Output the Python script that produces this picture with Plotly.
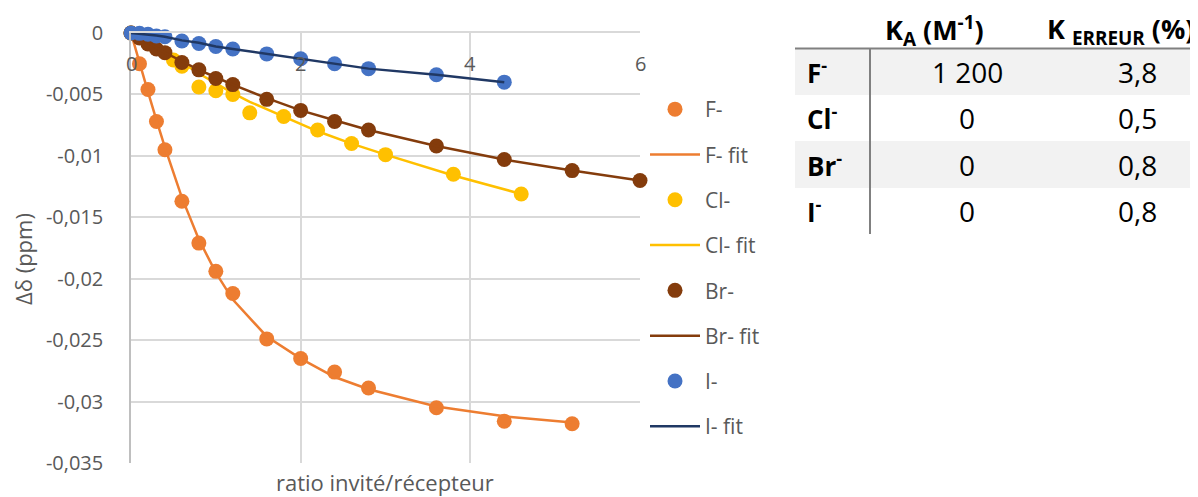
import plotly.graph_objects as go

# ---------------- data ----------------
x_f = [0, 0.1, 0.2, 0.3, 0.4, 0.6, 0.8, 1.0, 1.2, 1.6, 2.0, 2.4, 2.8, 3.6, 4.4, 5.2]
f_pts = [0, -0.0025, -0.0046, -0.0072, -0.0095, -0.0137, -0.0171, -0.0194, -0.0212,
         -0.0249, -0.0265, -0.0276, -0.0289, -0.0305, -0.0316, -0.0318]
f_fit = [0, -0.0025, -0.0048, -0.0071, -0.0093, -0.0134, -0.0168, -0.0195, -0.0217,
         -0.0247, -0.0265, -0.0280, -0.0290, -0.0304, -0.0312, -0.0317]

x_cl = [0, 0.5, 0.6, 0.8, 1.0, 1.2, 1.4, 1.8, 2.2, 2.6, 3.0, 3.8, 4.6]
cl_pts = [0, -0.0022, -0.0027, -0.0044, -0.0047, -0.0050, -0.0065, -0.0068, -0.0079,
          -0.0090, -0.0099, -0.0115, -0.0131]
cl_fit = [0, -0.0020, -0.0024, -0.0033, -0.0041, -0.0049, -0.0056, -0.0068, -0.0080,
          -0.0090, -0.0099, -0.0116, -0.0131]

x_br = [0, 0.1, 0.2, 0.3, 0.4, 0.6, 0.8, 1.0, 1.2, 1.6, 2.0, 2.4, 2.8, 3.6, 4.4, 5.2, 6.0]
br_pts = [0, -0.0004, -0.0009, -0.0013, -0.0016, -0.0024, -0.0030, -0.0037, -0.0042,
          -0.0054, -0.0063, -0.0072, -0.0079, -0.0092, -0.0103, -0.0112, -0.0120]
br_fit = [0, -0.0004, -0.0008, -0.0012, -0.0016, -0.0023, -0.0030, -0.0036, -0.0042,
          -0.0053, -0.0063, -0.0071, -0.0079, -0.0092, -0.0103, -0.0112, -0.0120]

x_i = [0, 0.1, 0.2, 0.3, 0.4, 0.6, 0.8, 1.0, 1.2, 1.6, 2.0, 2.4, 2.8, 3.6, 4.4]
i_pts = [0, -0.00003, -0.0001, -0.00025, -0.0003, -0.00065, -0.00085, -0.0011, -0.0013,
         -0.0017, -0.0021, -0.0025, -0.0029, -0.0034, -0.0040]
i_fit = [0, -0.00005, -0.0001, -0.0002, -0.0003, -0.0006, -0.0008, -0.0011, -0.0013,
         -0.0017, -0.0021, -0.0025, -0.0029, -0.0034, -0.0040]

x_tickvals = [0, 2, 4, 6]
x_ticktext = ["0", "2", "4", "6"]
y_tickvals = [0, -0.005, -0.01, -0.015, -0.02, -0.025, -0.03, -0.035]
y_ticktext = ["0", "-0,005", "-0,01", "-0,015", "-0,02", "-0,025", "-0,03", "-0,035"]

x_title = "ratio invité/récepteur"
y_title = "Δδ (ppm)"

# table
tbl_header = ["K<sub>A</sub> (M<sup>-1</sup>)", "K <sub>ERREUR</sub> (%)"]
tbl_rows = ["F<sup>-</sup>", "Cl<sup>-</sup>", "Br<sup>-</sup>", "I<sup>-</sup>"]
tbl_ka = ["1 200", "0", "0", "0"]
tbl_err = ["3,8", "0,5", "0,8", "0,8"]

# ---------------- style ----------------
C_F = "#ED7D31"
C_CL = "#FFC000"
C_BR = "#843C0C"
C_I = "#4472C4"
C_IFIT = "#203864"
GRAY = "#595959"
FONT = "Open Sans"
FS = 20

OFF = 8  # page body margin in the browser
W, H = 1198 - OFF, 497 - OFF
L, T = 131 - OFF, 33 - OFF
PW, PH = 509, 430
R, B = W - L - PW, H - T - PH


def px_x(p):
    """page pixel -> paper fraction"""
    return (p - OFF - L) / PW


def px_y(p):
    return (T + PH - (p - OFF)) / PH


fig = go.Figure()
series = [
    ("F-", x_f, f_pts, f_fit, C_F, C_F),
    ("Cl-", x_cl, cl_pts, cl_fit, C_CL, C_CL),
    ("Br-", x_br, br_pts, br_fit, C_BR, C_BR),
    ("I-", x_i, i_pts, i_fit, C_I, C_IFIT),
]
for name, xs, pts, fit, cm, cl in series:
    fig.add_trace(go.Scatter(x=xs, y=pts, mode="markers", name=name,
                             marker=dict(color=cm, size=15), cliponaxis=False,
                             legendgroup=name))
    fig.add_trace(go.Scatter(x=xs, y=fit, mode="lines", name=name + " fit",
                             line=dict(color=cl, width=2.5), cliponaxis=False,
                             legendgroup=name + " fit"))

fig.update_layout(
    width=W, height=H, autosize=False,
    margin=dict(l=L, r=R, t=T, b=B, pad=0, autoexpand=False),
    paper_bgcolor="white", plot_bgcolor="white",
    font=dict(family=FONT, size=FS, color=GRAY),
    showlegend=True,
    legend=dict(x=px_x(645), y=px_y(89), xanchor="left", yanchor="top",
                font=dict(size=21, color=GRAY), tracegroupgap=15,
                bgcolor="rgba(0,0,0,0)", itemwidth=50),
    xaxis=dict(range=[0, 6], side="top", showticklabels=False,
               tickvals=x_tickvals, ticks="",
               showgrid=True, gridcolor="#D9D9D9", gridwidth=1.5,
               showline=True, linecolor="#D9D9D9", linewidth=1.5,
               zeroline=False, automargin=False),
    yaxis=dict(range=[-0.035, 0], tickvals=y_tickvals, ticktext=y_ticktext, ticks="",
               showgrid=True, gridcolor="#D9D9D9", gridwidth=1.5,
               showline=True, linecolor="#BFBFBF", linewidth=1.5,
               zeroline=False, ticklabelstandoff=22, automargin=False,
               tickfont=dict(size=FS, color=GRAY)),
)

# x tick labels just under the y=0 line, placed on the x scale
for v, t in zip(x_tickvals, x_ticktext):
    fig.add_annotation(text=t, xref="x", yref="paper", x=v, y=px_y(64),
                       showarrow=False, xanchor="center", yanchor="middle",
                       font=dict(size=FS, color=GRAY))

# axis titles
fig.add_annotation(text=y_title, xref="paper", yref="paper", x=px_x(23), y=px_y(259),
                   textangle=-90, showarrow=False, xanchor="center", yanchor="middle",
                   font=dict(size=22, color=GRAY))
fig.add_annotation(text=x_title, xref="paper", yref="paper", x=px_x(385), y=px_y(482),
                   showarrow=False, xanchor="center", yanchor="middle",
                   font=dict(size=22, color=GRAY))

# table shapes
row_top = [49, 95, 141, 188]
row_bot = [95, 141, 188, 234]
for i, (t0, t1) in enumerate(zip(row_top, row_bot)):
    if i % 2 == 0:
        fig.add_shape(type="rect", xref="paper", yref="paper",
                      x0=px_x(795), x1=px_x(1198), y0=px_y(t1), y1=px_y(t0),
                      fillcolor="#F2F2F2", line=dict(width=0), layer="below")
fig.add_shape(type="line", xref="paper", yref="paper", x0=px_x(795), x1=px_x(1198),
              y0=px_y(48.5), y1=px_y(48.5), line=dict(color="#808080", width=2))
fig.add_shape(type="line", xref="paper", yref="paper", x0=px_x(870), x1=px_x(870),
              y0=px_y(48.5), y1=px_y(234), line=dict(color="#808080", width=2))

HF = dict(family=FONT, size=27, color="black")
TF = dict(family=FONT, size=28, color="black")
LF = dict(family=FONT, size=26, color="black")
fig.add_annotation(text="<b>" + tbl_header[0] + "</b>", xref="paper", yref="paper",
                   x=px_x(934), y=px_y(30), showarrow=False, xanchor="center",
                   yanchor="middle", font=HF)
fig.add_annotation(text="<b>" + tbl_header[1] + "</b>", xref="paper", yref="paper",
                   x=px_x(1196), y=px_y(30), showarrow=False, xanchor="right",
                   yanchor="middle", font=HF)
row_mid = [72, 118, 165, 211]
for lab, ka, er, ym in zip(tbl_rows, tbl_ka, tbl_err, row_mid):
    fig.add_annotation(text="<b>" + lab + "</b>", xref="paper", yref="paper",
                       x=px_x(805), y=px_y(ym), showarrow=False, xanchor="left",
                       yanchor="middle", font=LF)
    fig.add_annotation(text=ka, xref="paper", yref="paper",
                       x=px_x(967), y=px_y(ym), showarrow=False, xanchor="center",
                       yanchor="middle", font=TF)
    fig.add_annotation(text=er, xref="paper", yref="paper",
                       x=px_x(1137), y=px_y(ym), showarrow=False, xanchor="center",
                       yanchor="middle", font=TF)

fig.write_html("out.html")
